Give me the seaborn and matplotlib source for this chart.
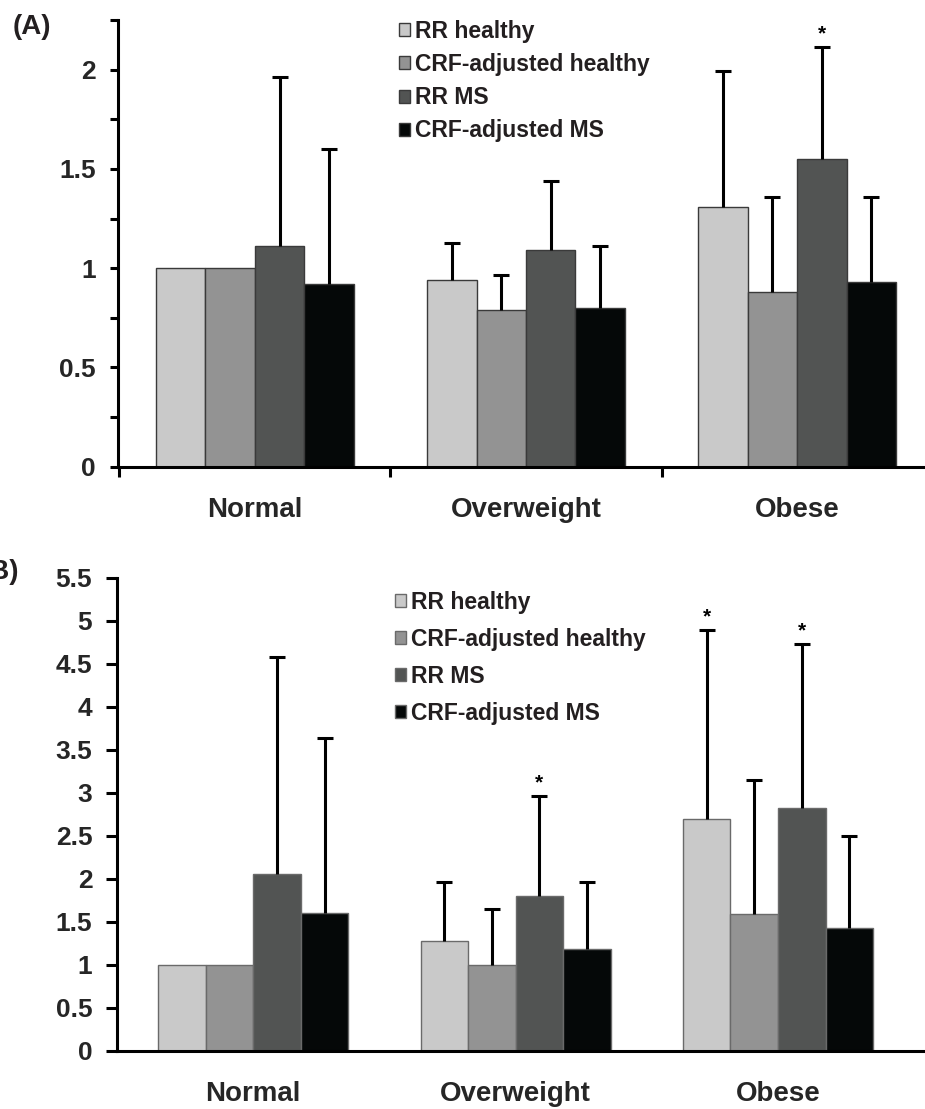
import numpy as np
import pandas as pd
import matplotlib
matplotlib.use('Agg')
import matplotlib.pyplot as plt
import seaborn as sns

# Values (bar height and top of the upper error bar)
categories = ['Normal', 'Overweight', 'Obese']
groups = ['RR healthy', 'CRF-adjusted healthy', 'RR MS', 'CRF-adjusted MS']
colors = ['#c9c9c9', '#939393', '#525453', '#050808']

a_rr_healthy = [1.00, 0.94, 1.31]
a_crf_healthy = [1.00, 0.79, 0.88]
a_rr_ms = [1.11, 1.09, 1.55]
a_crf_ms = [0.92, 0.80, 0.93]
a_err_rr_healthy = [np.nan, 1.125, 1.995]
a_err_crf_healthy = [np.nan, 0.964, 1.357]
a_err_rr_ms = [1.962, 1.44, 2.113]
a_err_crf_ms = [1.60, 1.11, 1.357]
a_stars = [('Obese', 'RR MS')]

b_rr_healthy = [1.00, 1.27, 2.70]
b_crf_healthy = [1.00, 1.00, 1.59]
b_rr_ms = [2.055, 1.80, 2.826]
b_crf_ms = [1.605, 1.183, 1.427]
b_err_rr_healthy = [np.nan, 1.965, 4.89]
b_err_crf_healthy = [np.nan, 1.648, 3.15]
b_err_rr_ms = [4.58, 2.965, 4.73]
b_err_crf_ms = [3.64, 1.965, 2.497]
b_stars = [('Overweight', 'RR MS'), ('Obese', 'RR healthy'), ('Obese', 'RR MS')]

a_yticks = [0, 0.5, 1, 1.5, 2]
a_yticklabels = ['0', '0.5', '1', '1.5', '2']
b_yticks = [0, 0.5, 1, 1.5, 2, 2.5, 3, 3.5, 4, 4.5, 5, 5.5]
b_yticklabels = ['0', '0.5', '1', '1.5', '2', '2.5', '3', '3.5', '4', '4.5', '5', '5.5']

sns.set_style('ticks')
plt.rcParams['font.family'] = ['Liberation Sans', 'DejaVu Sans']
plt.rcParams['font.weight'] = 'bold'
plt.rcParams['text.color'] = '#231f20'


def long_table(vals, errs):
    rows = []
    for g, v, e in zip(groups, vals, errs):
        for c, vv, ee in zip(categories, v, e):
            rows.append({'category': c, 'group': g, 'value': vv, 'upper': ee})
    return pd.DataFrame(rows)


def draw_panel(ax, df, stars, width, edge, ylim, yticks, yticklabels, minor, xlim, tick_len,
               legend_xy, labelspacing):
    sns.barplot(data=df, x='category', y='value', hue='group', order=categories,
                hue_order=groups, palette=colors, saturation=1, width=width, gap=0,
                edgecolor=edge, linewidth=1.0, errorbar=None, ax=ax)
    for cont, g in zip(ax.containers, groups):
        sub = df[df['group'] == g].set_index('category').loc[categories]
        for bar, c in zip(cont, categories):
            top = sub.loc[c, 'upper']
            x = bar.get_x() + bar.get_width() / 2
            h = bar.get_height()
            if not np.isnan(top):
                eb = ax.errorbar(x, h, yerr=[[0], [top - h]], fmt='none', ecolor='black',
                                 elinewidth=2.2, capsize=6, capthick=2.2, zorder=3)
                # only the upper cap is drawn in the original
                eb[1][0].set_visible(False)
            if (c, g) in stars:
                ax.annotate('*', (x, top), xytext=(0, 5.5), textcoords='offset points',
                            ha='center', va='baseline', fontsize=15, fontweight='bold',
                            color='black')
    ax.set_ylim(*ylim)
    ax.set_xlim(*xlim)
    ax.set_yticks(yticks, yticklabels)
    if minor is not None:
        ax.set_yticks(minor, minor=True)
    ax.set_xlabel('')
    ax.set_ylabel('')
    sns.despine(ax=ax)
    for s in ['left', 'bottom']:
        ax.spines[s].set_linewidth(2.2)
        ax.spines[s].set_color('black')
    ax.tick_params(axis='y', which='both', length=tick_len, width=2.2, pad=10,
                   labelsize=19, color='black')
    ax.tick_params(axis='x', which='major', length=0, pad=22, labelsize=20)
    for lab in ax.get_xticklabels() + ax.get_yticklabels():
        lab.set_fontweight('bold')
    handles, labels = ax.get_legend_handles_labels()
    ax.legend(handles, labels, loc='upper left', bbox_to_anchor=legend_xy,
              bbox_transform=ax.figure.transFigure, frameon=False, fontsize=16.5,
              handlelength=0.5, handleheight=0.5, handletextpad=0.2,
              labelspacing=labelspacing, borderpad=0, borderaxespad=0)


fig = plt.figure(figsize=(9.25, 11.09), dpi=100)
W, H = 925, 1109

ax_a = fig.add_axes([118 / W, (H - 466.7) / H, (W - 118) / W, 446.7 / H])
draw_panel(ax_a, long_table([a_rr_healthy, a_crf_healthy, a_rr_ms, a_crf_ms],
                            [a_err_rr_healthy, a_err_crf_healthy, a_err_rr_ms, a_err_crf_ms]),
           a_stars, 0.73, '#3a3a3a', (0, 2.25), a_yticks, a_yticklabels,
           [0.25, 0.75, 1.25, 1.75, 2.25], (-0.505, 2.472), 6,
           (399 / W, 1 - 20 / H), 0.44)
ax_a.set_xticks([-0.5, 0.5, 1.5], minor=True)
ax_a.tick_params(axis='x', which='minor', length=7, width=2.2, color='black')

ax_b = fig.add_axes([117.3 / W, (H - 1050.7) / H, (W - 117.3) / W, 473 / H])
draw_panel(ax_b, long_table([b_rr_healthy, b_crf_healthy, b_rr_ms, b_crf_ms],
                            [b_err_rr_healthy, b_err_crf_healthy, b_err_rr_ms, b_err_crf_ms]),
           b_stars, 0.725, '#6a6a6a', (0, 5.5), b_yticks, b_yticklabels,
           None, (-0.518, 2.56), 8,
           (395 / W, 1 - 591 / H), 0.61)
ax_b.tick_params(axis='x', which='minor', length=0)

fig.text(13 / W, 1 - 27 / H, '(A)', ha='left', va='center', fontsize=20, fontweight='bold')
fig.text(19 / W, 1 - 572 / H, '(B)', ha='right', va='center', fontsize=20, fontweight='bold')

fig.savefig('out.png', dpi=100)
